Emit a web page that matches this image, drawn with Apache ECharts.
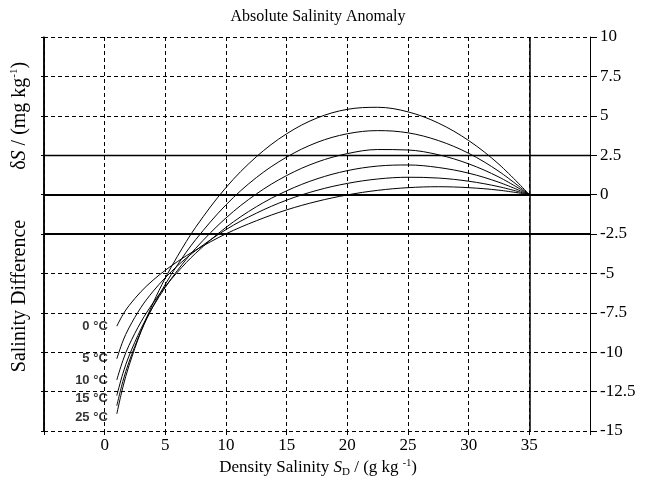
<!DOCTYPE html>
<html><head><meta charset="utf-8">
<script src="https://cdn.jsdelivr.net/npm/echarts@6/dist/echarts.min.js"></script>
<style>html,body{margin:0;padding:0;background:#fff}#c{width:650px;height:485px}</style>
</head><body><div id="c"></div>
<script>
// Density salinity S_D (g/kg) sample positions
const salinity = [1, 1.5, 2, 3, 4, 5, 6, 7.5, 10, 12.5, 15, 17.5, 20, 22.5, 25, 27.5, 30, 32.5, 35];
// Salinity difference dS (mg/kg) for each temperature curve
const t0  = [-8.35,-7.62,-7.05,-6.15,-5.42,-4.80,-4.25,-3.52,-2.49,-1.66,-0.97,-0.43,-0.02,0.27,0.44,0.50,0.44,0.28,0];
const t5  = [-10.42,-9.30,-8.46,-7.15,-6.13,-5.27,-4.52,-3.55,-2.22,-1.18,-0.35,0.27,0.71,0.99,1.10,1.05,0.85,0.50,0];
const t10 = [-11.76,-10.53,-9.57,-8.07,-6.86,-5.83,-4.92,-3.72,-2.08,-0.77,0.24,1.00,1.52,1.81,1.88,1.72,1.36,0.78,0];
const t15 = [-12.75,-11.35,-10.25,-8.51,-7.09,-5.88,-4.81,-3.41,-1.48,0.04,1.21,2.06,2.60,2.86,2.83,2.53,1.95,1.11,0];
const t20 = [-13.40,-11.85,-10.63,-8.67,-7.07,-5.69,-4.46,-2.86,-0.65,1.08,2.38,3.31,3.86,4.06,3.92,3.43,2.62,1.47,0];
const t25 = [-13.92,-12.22,-10.87,-8.67,-6.87,-5.29,-3.91,-2.07,0.45,2.40,3.86,4.86,5.41,5.54,5.25,4.54,3.43,1.92,0];
const curves = [t0, t5, t10, t15, t20, t25];
const curveLabels = ['0 °C', '5 °C', '10 °C', '15 °C', '', '25 °C'];
const xTicks = [0, 5, 10, 15, 20, 25, 30, 35];
const yTicks = [10, 7.5, 5, 2.5, 0, -2.5, -5, -7.5, -10, -12.5, -15];
const solidY = [2.5, 0, -2.5];
const solidYWidth = [1.3, 2, 2];
const solidX = [35, -5];
const solidXWidth = [1.5, 1.5];

const SERIF = 'Liberation Serif, Times New Roman, serif';
const chart = echarts.init(document.getElementById('c'), null, {renderer: 'canvas'});

const lineSeries = curves.map((arr, i) => ({
  type: 'line', name: 'T' + i,
  data: salinity.map((s, k) => [s, arr[k]]),
  smooth: 0.35, showSymbol: false, symbol: 'none', silent: true, clip: false,
  lineStyle: {color: '#000', width: 1},
  z: 5,
  markLine: i === 0 ? {
    silent: true, symbol: ['none', 'none'], label: {show: false},
    data: solidY.map((v, j) => ({yAxis: v, lineStyle: {color: '#000', width: solidYWidth[j], type: 'solid'}}))
      .concat(solidX.map((v, j) => ({xAxis: v, lineStyle: {color: '#000', width: solidXWidth[j], type: 'solid'}})))
  } : undefined
}));

const labelSeries = {
  type: 'scatter', symbolSize: 0, silent: true, z: 6,
  data: curves.map((arr, i) => ({
    value: [salinity[0], arr[0]],
    label: {
      show: curveLabels[i] !== '', formatter: curveLabels[i], position: 'left', distance: 9,
      offset: (i === 3 || i === 5) ? [0, 3] : [0, 0],
      fontFamily: 'Liberation Sans, Arial, sans-serif', fontWeight: 'bold', fontSize: 13, color: '#000'
    }
  }))
};

const dash = {color: '#000', width: 1, type: [4, 3]};

chart.setOption({
  animation: false,
  grid: {left: 44, right: 60, top: 37, bottom: 54},
  xAxis: {
    type: 'value', min: -5, max: 40, interval: 5,
    axisLine: {show: false, onZero: false},
    axisTick: {show: true, length: 4, lineStyle: {color: '#000'}},
    axisLabel: {
      color: '#000', fontFamily: SERIF, fontSize: 17, margin: 6,
      formatter: v => xTicks.indexOf(v) >= 0 ? String(v) : ''
    },
    splitLine: {show: true, lineStyle: dash}
  },
  yAxis: [{
    type: 'value', position: 'right', min: -15, max: 10, interval: 2.5,
    axisLine: {show: true, onZero: false, lineStyle: {color: '#000', width: 1}},
    axisTick: {show: true, length: 7, lineStyle: {color: '#000'}},
    axisLabel: {
      color: '#000', fontFamily: SERIF, fontSize: 17, margin: 10,
      formatter: v => yTicks.indexOf(v) >= 0 ? String(v) : ''
    },
    splitLine: {show: true, lineStyle: dash}
  }, {
    type: 'value', position: 'left', min: -15, max: 10, interval: 2.5,
    axisLine: {show: true, onZero: false, lineStyle: {color: '#000', width: 1.5}},
    axisTick: {show: true, length: 3, lineStyle: {color: '#000'}},
    axisLabel: {show: false},
    splitLine: {show: false}
  }],
  graphic: [
    {type: 'text', x: 318, y: 17,
     style: {text: 'Absolute Salinity Anomaly', font: '16px ' + SERIF, fill: '#000', textAlign: 'center', textVerticalAlign: 'middle'}, silent: true},
    {type: 'text', x: 318, y: 468,
     style: {
       text: '{n|Density Salinity }{i|S}{sub|D}{n| / (g kg }{sup|-1}{n|)}',
       textAlign: 'center', textVerticalAlign: 'middle', fill: '#000',
       rich: {
         n: {fontFamily: SERIF, fontSize: 17, lineHeight: 20},
         i: {fontFamily: SERIF, fontSize: 17, fontStyle: 'italic', lineHeight: 20},
         sub: {fontFamily: SERIF, fontSize: 11, lineHeight: 11, verticalAlign: 'bottom'},
         sup: {fontFamily: SERIF, fontSize: 10, lineHeight: 10, verticalAlign: 'top'}
       }
     }, silent: true},
    {type: 'text', x: 20, y: 217, rotation: Math.PI / 2,
     style: {
       text: '{n|Salinity Difference}{gap| }{n|δ}{i|S}{n| / (mg kg}{sup|-1}{n|)}',
       textAlign: 'center', textVerticalAlign: 'middle', fill: '#000',
       rich: {
         n: {fontFamily: SERIF, fontSize: 20, lineHeight: 23},
         i: {fontFamily: SERIF, fontSize: 20, fontStyle: 'italic', lineHeight: 23},
         gap: {fontFamily: SERIF, fontSize: 20, width: 50, lineHeight: 23},
         sup: {fontFamily: SERIF, fontSize: 11, lineHeight: 11, verticalAlign: 'top'}
       }
     }, silent: true}
  ],
  series: lineSeries.concat([labelSeries])
});
</script></body></html>
